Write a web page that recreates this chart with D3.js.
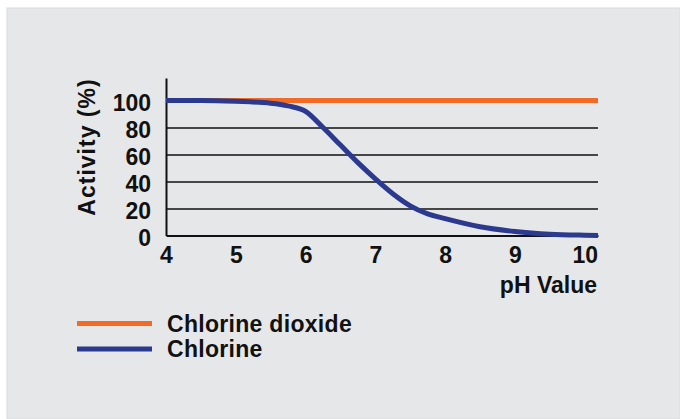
<!DOCTYPE html>
<html><head><meta charset="utf-8">
<script src="https://cdn.jsdelivr.net/npm/d3@7"></script>
<style>html,body{margin:0;padding:0;background:#fff;}svg{display:block;}</style>
</head><body>
<svg id="c" width="680" height="419"></svg>
<script>
const phValues = [4, 4.5, 5, 5.5, 5.75, 6, 6.25, 6.5, 6.75, 7, 7.25, 7.5, 7.75, 8, 8.5, 9, 9.5, 10, 10.19];
const chlorine = [100, 100, 99.4, 98, 96, 92, 80, 67, 54, 42, 31, 22, 16, 12.5, 6.5, 3, 1, 0.2, 0];
const chlorineDioxide = [100, 100, 100, 100, 100, 100, 100, 100, 100, 100, 100, 100, 100, 100, 100, 100, 100, 100, 100];
const xTicks = [4, 5, 6, 7, 8, 9, 10];
const yTicks = [0, 20, 40, 60, 80, 100];
const seriesNames = ["Chlorine dioxide", "Chlorine"];
const seriesColors = ["#f26a25", "#2b3a8f"];

const svg = d3.select("#c");
const font = "'Liberation Sans', Arial, sans-serif";
const fs = 23;
svg.append("rect").attr("x", 7).attr("y", 8).attr("width", 673).attr("height", 411)
  .attr("fill", "#e6e7e9").attr("stroke", "#dcdcdf").attr("stroke-width", 1);

const x = d3.scaleLinear().domain([4, 10.19]).range([166, 598]);
const y = d3.scaleLinear().domain([0, 116.7]).range([235.5, 78]);

// gridlines
const grid = svg.append("g").attr("transform", `translate(${x(4)},0)`)
  .call(d3.axisLeft(y).tickValues(yTicks.filter(d => d > 0)).tickSize(-(x(10.19) - x(4))).tickFormat(""));
grid.select(".domain").remove();
grid.selectAll(".tick line").attr("stroke", "#111").attr("stroke-width", 1.4);

// y axis
const ya = svg.append("g").attr("transform", `translate(${x(4)},0)`)
  .call(d3.axisLeft(y).tickValues(yTicks).tickSize(0).tickPadding(15));
ya.select(".domain").attr("stroke", "#111").attr("stroke-width", 2);
ya.selectAll(".tick text").attr("font-family", font).attr("font-weight", "bold")
  .attr("font-size", fs).attr("fill", "#111").attr("dy", "0.42em");

// x axis
const xa = svg.append("g").attr("transform", `translate(0,${y(0)})`)
  .call(d3.axisBottom(x).tickValues(xTicks).tickSize(0).tickPadding(11).tickFormat(d3.format("d")));
xa.select(".domain").attr("stroke", "#111").attr("stroke-width", 2);
xa.selectAll(".tick text").attr("font-family", font).attr("font-weight", "bold")
  .attr("font-size", fs).attr("fill", "#111");

// titles
svg.append("text").attr("transform", "translate(95,147) rotate(-90)")
  .attr("text-anchor", "middle").attr("font-family", font).attr("font-weight", "bold")
  .attr("font-size", fs).attr("letter-spacing", 1).attr("fill", "#111").text("Activity (%)");
svg.append("text").attr("x", 597).attr("y", 293).attr("text-anchor", "end")
  .attr("font-family", font).attr("font-weight", "bold").attr("font-size", fs)
  .attr("fill", "#111").text("pH Value");

// lines
const line = d3.line().x((d, i) => x(phValues[i])).y(d => y(d)).curve(d3.curveMonotoneX);
[chlorineDioxide, chlorine].forEach((s, i) => {
  svg.append("path").datum(s).attr("d", line).attr("fill", "none")
    .attr("stroke", seriesColors[i]).attr("stroke-width", 5);
});

// legend
seriesNames.forEach((n, i) => {
  const ly = 323.5 + i * 25.5;
  svg.append("line").attr("x1", 77).attr("x2", 152).attr("y1", ly).attr("y2", ly)
    .attr("stroke", seriesColors[i]).attr("stroke-width", 5);
  svg.append("text").attr("x", 167).attr("y", ly + 8.3).attr("font-family", font)
    .attr("font-weight", "bold").attr("font-size", fs).attr("letter-spacing", 0.3)
    .attr("fill", "#111").text(n);
});
</script>
</body></html>
